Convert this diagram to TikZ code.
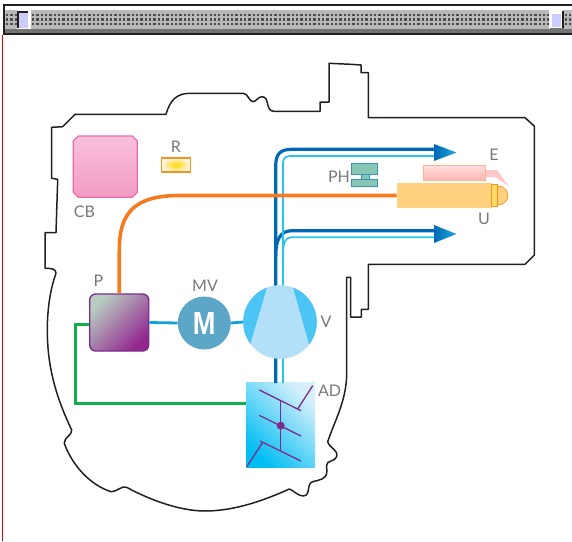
\documentclass[tikz,border=0pt]{standalone}
\usepackage{fontspec}
\setmainfont{Lato}
\newfontfamily\motorfont{Liberation Sans}
\usetikzlibrary{positioning}
\usetikzlibrary{calc}
\definecolor{outlinec}{HTML}{231F20}
\definecolor{labelc}{HTML}{77787B}
\definecolor{bluedark}{HTML}{0068B4}
\definecolor{bluelight}{HTML}{27C4F0}
\definecolor{bluetip}{HTML}{1CA8E0}
\definecolor{linkc}{HTML}{0FA3D9}
\definecolor{purplec}{HTML}{7B2D8E}
\definecolor{orangec}{HTML}{F47B20}
\definecolor{framec}{HTML}{F7941D}
\definecolor{greenc}{HTML}{0DB14B}
\definecolor{pumpc}{HTML}{B3E0F8}
\definecolor{wedgec}{HTML}{4AC5F4}
\definecolor{motorc}{HTML}{5CA6C8}
\definecolor{unitc}{HTML}{FFD27F}
\definecolor{pinktop}{HTML}{F7C0DC}
\definecolor{pinkbot}{HTML}{F39BC2}
\definecolor{pinkline}{HTML}{EF6CA8}
\definecolor{adtop}{HTML}{D5F0FB}
\definecolor{adbot}{HTML}{00BDF2}
\definecolor{phfill}{HTML}{86C6B4}
\definecolor{phline}{HTML}{3C92BF}
\definecolor{ptop}{HTML}{B8CCC0}
\definecolor{pbot}{HTML}{92278F}
\tikzset{
 lab/.style={text=labelc, inner sep=0pt, font=\fontsize{16}{18}\selectfont},
 box/.style={rectangle, inner sep=0pt},
 bluepipe/.style={draw=bluedark, line width=3.2pt},
 lightpipe/.style={draw=bluelight, line width=1.7pt},
 linkpipe/.style={draw=linkc, line width=2.8pt},
 adline/.style={draw=purplec, line width=1.3pt},
 phbox/.style={box, draw=phline, line width=1pt, fill=phfill},
}
\begin{document}
\begin{tikzpicture}[x=1pt,y=-1pt]
	\useasboundingbox (0,0) rectangle (572,541);

	% bar at the top
	\fill[black!28] (3,10) rectangle (572,30);
	\foreach \i in {0,...,131}
		{\foreach \j in {14.7,19.3,24}
			{\fill[black!70] ({7+4.33*\i-1},\j-1.1) rectangle ++(2.3,2.3);}}
	\fill[white] (4,7) rectangle (572,10);
	\fill[black!55] (3,29) rectangle (572,33);
	\draw[outlinec, line width=2pt] (572,5) -- (3.5,5) -- (3.5,34) -- (572,34);
	\node[box, fill=white, minimum width=14pt, minimum height=19pt] (handlel) at (23.5,19.5) {};
	\fill[blue!20!white] (19,12) rectangle (28,28);
	\draw[outlinec, line width=1.6pt] (18,28) -- (18,12) -- (28,12);
	\node[box, fill=white, minimum width=14pt, minimum height=19pt] (handler) at (556,19.5) {};
	\fill[blue!20!white] (552,14) rectangle (561,27);
	\draw[outlinec, line width=1.6pt] (563,11) -- (563,29);
	\fill[black!55] (550,28) rectangle (564,30);
	\draw[red!90!black, line width=1pt] (2.5,35) -- (2.5,541);

	% outline
	\draw[outlinec, line width=1.5pt, line join=round] (51.7,127.3) -- (62.7,126.7) -- (75,114.3) -- (166,114.3)
		.. controls (170,100) and (177,93.3) .. (190,93.3) -- (243.3,93.3)
		.. controls (248,93.3) and (249,101.7) .. (253,101.7)
		.. controls (256,101.7) and (258,96.7) .. (262,96.7)
		.. controls (270,96.7) and (265,111.3) .. (274,111.3) -- (320,111.3) -- (320,102) -- (329,102) -- (329,63.3)
		-- (350.7,64.3) -- (361,65) -- (361,72.7) -- (368.3,72.7) -- (368.3,117.7) -- (525,117.7) -- (534.3,126)
		-- (534.3,255) -- (525,264.3) -- (368.3,264.3) -- (368.3,309.3) -- (361.3,309.3) -- (361.3,317) -- (350.7,317)
		-- (350.7,277.3) -- (346.7,277.3) -- (346.7,373)
		.. controls (346.7,400) and (335,420) .. (327.7,441.7)
		.. controls (330,449) and (338,449) .. (336.7,456.7)
		.. controls (335,462) and (326,460) .. (326.5,466)
		.. controls (327,472) and (328,476) .. (322,479)
		.. controls (316,482) and (310,480) .. (309,486)
		.. controls (308,492) and (308,496) .. (303,496)
		.. controls (298,496) and (293,490) .. (289.3,489)
		.. controls (265,500) and (235,511) .. (205,511)
		.. controls (180,511) and (150,500) .. (126.7,487.3)
		.. controls (122,485) and (117,492) .. (111,491.7)
		.. controls (90,485) and (72,465) .. (64.3,443.3)
		.. controls (64,437) and (72,436) .. (71.7,430)
		.. controls (55,395) and (47.3,365) .. (47.3,330)
		.. controls (47.3,310) and (50,290) .. (56,273.3)
		.. controls (56,269) and (52,268.3) .. (45,268.3) -- (45,232.7) -- (56,232.7) -- (57.7,179.3) -- (51.7,178.3) -- cycle;

	% nodes
	\shade[draw=pinkline, line width=1.2pt, top color=pinktop, bottom color=pinkbot] (78.3,136) -- (132.3,136) -- (137.3,141) -- (137.3,192.3) -- (132.3,197.3) -- (78.3,197.3) -- (73.3,192.3) -- (73.3,141) -- cycle;
	\node[box, draw=framec, line width=1.4pt, inner color=yellow!70!orange, outer color=orange!8!white, minimum width=29pt, minimum height=14pt] (R) at (176,164.8) {};
	\node[box, rounded corners=6pt, draw=purplec, line width=1.4pt, top color=ptop, bottom color=pbot, shading angle=45, minimum width=59pt, minimum height=57pt] (P) at (119.2,322.5) {};
	\node[box, top color=adtop, bottom color=adbot, shading angle=-45, minimum width=69pt, minimum height=84.7pt] (AD) at (280.5,425.3) {};
	\node[box, fill=unitc, minimum width=95pt, minimum height=24.4pt] (U) at (444.2,195.5) {};
	\node[box, draw=red!35!orange!45!white, line width=0.8pt, top color=red!12!white, bottom color=red!30!white, minimum width=62pt, minimum height=15pt] (E) at (454.5,172.5) {};
	\node[phbox, minimum width=26pt, minimum height=11pt] (pha) at (364.8,168.8) {};
	\node[phbox, minimum width=26pt, minimum height=7.5pt] (phb) at (364.8,183.2) {};
	\node[phbox, minimum width=8pt, minimum height=5pt] (phc) at (365,176.8) {};
	\fill[red!22!white] (486,170) -- (497,170) -- (508.5,186) -- (495,177) -- (486,177) -- cycle;

	% tip of U
	\fill[unitc, draw=framec, line width=0.7pt] (497.7,186) arc (-90:90:10.3 and 9.5) -- cycle;
	\node[box, draw=framec, line width=0.9pt, fill=unitc!80!yellow, minimum width=6pt, minimum height=22.4pt] (Ucap) at (494.7,195.5) {};

	% coordinates for the pipes
	\coordinate (bluea) at (275.7,383);
	\coordinate (lighta) at (283,383);
	\coordinate (tipa) at (434,149.3);
	\coordinate (tipb) at (434,230.7);
	\coordinate (tipc) at (434,156);
	\coordinate (tipd) at (434,237.3);
	\coordinate (greenend) at (246,403.3);

	% pipes
	\draw[bluepipe] (bluea) -- (275.7,166) .. controls (275.7,154) and (280,149.3) .. (292,149.3) -- (tipa);
	\draw[bluepipe] (275.7,256) .. controls (275.7,240) and (280,230.7) .. (292,230.7) -- (tipb);
	\draw[lightpipe] (lighta) -- (283,165) .. controls (283,158) and (285,156) .. (291,156) -- (tipc);
	\draw[lightpipe] (283,256) .. controls (283,243) and (285,237.3) .. (291,237.3) -- (tipd);
	\shade[left color=bluedark, right color=bluetip] (434,144) -- (456.5,152.5) -- (434,161) -- cycle;
	\shade[left color=bluedark, right color=bluetip] (434,225) -- (456.5,234) -- (434,243) -- cycle;
	\draw[draw=orangec, line width=3.6pt] (P.north) -- (119.3,250) .. controls (119.3,212) and (135,195.5) .. (180,195.5) -- (U.west);
	\draw[draw=greenc, line width=2.6pt] ([yshift=-2.2pt]P.west) -| (75.3,403.3) -- (greenend);

	% pump and motor
	\node[circle, fill=pumpc, inner sep=0pt, minimum size=73.6pt] (V) at (280,322) {};
	\begin{scope}
		\clip (V.center) circle (36.8);
		\fill[wedgec] (267.7,285) -- (250,345) -- (240,345) -- (240,285) -- cycle;
		\fill[wedgec] (292.3,285) -- (309.3,345) -- (320,345) -- (320,285) -- cycle;
	\end{scope}
	\node[circle, fill=motorc, inner sep=0pt, minimum size=53pt, text=white, font=\motorfont\bfseries\fontsize{32}{32}\selectfont] (M) at (204.3,323) {\scalebox{0.85}[1]{M}};
	\draw[linkpipe] (P.east) -- (M.west);
	\draw[linkpipe] (M.east) -- (V.west);

	% inside AD
	\draw[adline] (259.3,390) -- (301,410.7);
	\draw[adline] (297.7,409) -- (312.7,385.7);
	\draw[adline] (259.3,415.3) -- (301,436);
	\draw[adline] (260,441) -- (301,461);
	\draw[adline] (262.7,442.3) -- (246.7,466.7);
	\draw[adline] (280.7,401) -- (280.7,450.7);
	\node[circle, fill=purplec, inner sep=0pt, minimum size=8pt] (ADc) at (280.7,425.7) {};

	% labels
	\node[lab] (labCB) at (84.5,212) {CB};
	\node[lab] (labR) at (176,147) {R};
	\node[lab] (labPH) at (339,177) {PH};
	\node[lab] (labE) at (494,155) {E};
	\node[lab] (labU) at (484,219) {U};
	\node[lab] (labP) at (98.5,281) {P};
	\node[lab] (labMV) at (205,286) {MV};
	\node[lab] (labV) at (326,322) {V};
	\node[lab] (labAD) at (329.5,390.5) {AD};
\end{tikzpicture}
\end{document}
